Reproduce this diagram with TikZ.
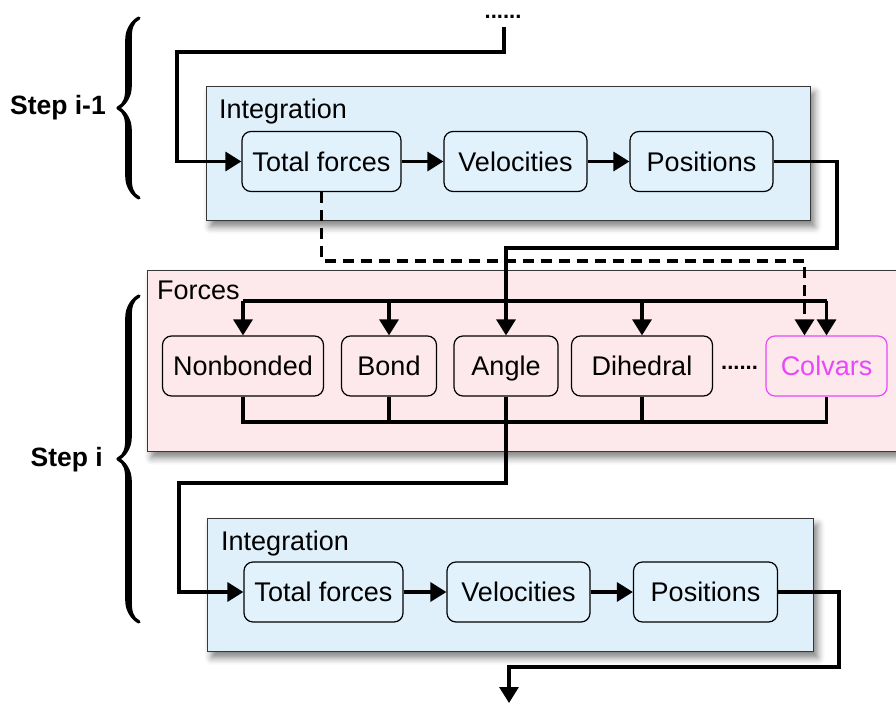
\documentclass[tikz,border=0pt]{standalone}
\usepackage{fontspec}
\setmainfont{Liberation Sans}
\usetikzlibrary{arrows.meta,shadows.blur,decorations.pathreplacing,calligraphy}

\definecolor{intbg}{RGB}{224,240,251}
\definecolor{intnode}{RGB}{226,242,253}
\definecolor{forcebg}{RGB}{253,232,235}
\definecolor{colvarcol}{RGB}{232,72,250}
\definecolor{frame}{RGB}{55,55,55}

\tikzset{
  container/.style={draw=frame, line width=1.3pt, inner sep=0pt, anchor=north west,
    blur shadow={shadow xshift=4pt, shadow yshift=-6pt, shadow blur radius=7pt, shadow opacity=50}},
  stage/.style={draw=black, line width=1.2pt, rounded corners=9pt, minimum height=60pt,
    inner sep=0pt, text height=23pt, text depth=3.6pt, font=\fontsize{27}{30}\selectfont},
  caption/.style={anchor=west, inner sep=0pt, text height=23pt, text depth=3.6pt,
    font=\fontsize{27}{30}\selectfont},
  steplabel/.style={anchor=east, inner sep=0pt, font=\fontsize{26.5}{30}\selectfont\bfseries},
  ellip/.style={inner sep=0pt, font=\fontsize{22}{24}\selectfont\bfseries},
  conn/.style={line width=3.2pt, line join=miter},
  tip/.style={-{Triangle[length=16pt,width=19pt]}},
  stepbrace/.style={decorate, decoration={calligraphic brace, amplitude=21pt}, line width=6.5pt},
}

\begin{document}
\begin{tikzpicture}[x=1pt,y=-1pt]
\useasboundingbox (0,0) rectangle (896,711);

% ---------- containers ----------
\node[container, fill=intbg, minimum width=604pt, minimum height=134pt] (int1) at (206,86) {};
\node[container, fill=forcebg, minimum width=760pt, minimum height=181pt] (forces) at (147,270) {};
\node[container, fill=intbg, minimum width=606pt, minimum height=133pt] (int2) at (207,518) {};

\node[caption] (lab1) at (219,109) {Integration};
\node[caption] (lab2) at (157,290) {Forces};
\node[caption] (lab3) at (221,541) {Integration};

% ---------- step i-1 integration ----------
\node[stage, fill=intnode, minimum width=159pt] (tf1) at (321.5,161.5) {Total forces};
\node[stage, fill=intnode, minimum width=143pt] (v1)  at (515.5,161.5) {Velocities};
\node[stage, fill=intnode, minimum width=143pt] (p1)  at (701.5,161.5) {Positions};

% ---------- force terms ----------
\node[stage, fill=forcebg, minimum width=161pt] (nb)     at (243,366) {Nonbonded};
\node[stage, fill=forcebg, minimum width=95pt]  (bond)   at (389,366) {Bond};
\node[stage, fill=forcebg, minimum width=104pt] (angle)  at (506,366) {Angle};
\node[stage, fill=forcebg, minimum width=141pt] (dihed)  at (642,366) {Dihedral};
\node[ellip] (dots2) at (739.5,368) {......};
\node[stage, fill=forcebg, draw=colvarcol, text=colvarcol, minimum width=121pt] (colvars) at (826.5,366) {Colvars};

% ---------- step i integration ----------
\node[stage, fill=intnode, minimum width=159pt] (tf2) at (323.5,592) {Total forces};
\node[stage, fill=intnode, minimum width=143pt] (v2)  at (518.5,592) {Velocities};
\node[stage, fill=intnode, minimum width=144pt] (p2)  at (705.5,592) {Positions};

% ---------- step labels and braces ----------
\node[steplabel] (s1) at (106,108) {Step i-1};
\node[steplabel] (s2) at (103,460) {Step i};
\draw[stepbrace] (139,198) -- (139,18);
\draw[stepbrace] (139,622) -- (139,296);

% ---------- helper coordinates ----------
\node[ellip] (dots1) at (503,17) {......};
\coordinate (feed) at (504,27);
\coordinate (feedturn) at (177,52);
\coordinate (busT) at (0,301);
\coordinate (busB) at (0,422);
\coordinate (dashrow) at (0,261);
\coordinate (posturn) at (837,248);
\coordinate (angleturn) at (179,483);
\coordinate (exitturn) at (839,667);
\coordinate (exit) at (509,703);

% ---------- connectors ----------
\draw[conn, tip] (feed) |- (feedturn) |- (tf1.west);
\draw[conn, tip] (tf1) -- (v1);
\draw[conn, tip] (v1) -- (p1);
\draw[conn, tip] (p1.east) -| (posturn) -| (angle.north);
\draw[conn, tip, dash pattern=on 11pt off 7pt] (tf1.south) |- ([xshift=-22pt]colvars.north |- dashrow) -- ([xshift=-22pt]colvars.north);

\draw[conn] (nb.north |- busT) -- (colvars.north |- busT);
\foreach \n in {nb,bond,dihed,colvars}
  \draw[conn, tip] (\n.north |- busT) -- (\n.north);

\draw[conn] (nb.south) -- (nb.south |- busB) -- (colvars.south |- busB) -- (colvars.south);
\foreach \n in {bond,dihed}
  \draw[conn] (\n.south) -- (\n.south |- busB);

\draw[conn, tip] (angle.south) |- (angleturn) |- (tf2.west);
\draw[conn, tip] (tf2) -- (v2);
\draw[conn, tip] (v2) -- (p2);
\draw[conn, tip] (p2.east) -| (exitturn) -| (exit);
\end{tikzpicture}
\end{document}
